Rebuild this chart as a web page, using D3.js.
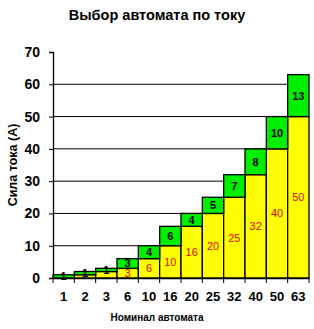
<!DOCTYPE html>
<html>
<head>
<meta charset="utf-8">
<script src="https://cdn.jsdelivr.net/npm/d3@7"></script>
<style>
  body { margin: 0; background: #fff; }
  text { font-family: "Liberation Sans", Arial, sans-serif; }
</style>
</head>
<body>
<svg id="chart" width="314" height="329"></svg>
<script>
// ratings of the breakers and the two stacked parts
const ratings = ["1", "2", "3", "6", "10", "16", "20", "25", "32", "40", "50", "63"];
const yellowValues = [0, 1, 2, 3, 6, 10, 16, 20, 25, 32, 40, 50];
const greenValues = [1, 1, 1, 3, 4, 6, 4, 5, 7, 8, 10, 13];
const yTicks = [0, 10, 20, 30, 40, 50, 60, 70];

let svg = d3.select("svg#chart");

let margin = {left: 53, right: 5, top: 52, bottom: 51};
let width = 314 - margin.left - margin.right;
let height = 329 - margin.top - margin.bottom;

let x = d3.scaleBand().domain(ratings).range([margin.left, margin.left + width]).padding(0);
let y = d3.scaleLinear().domain([0, 70]).range([margin.top + height, margin.top]);

// title
svg.append("text")
  .attr("x", 157).attr("y", 20)
  .attr("text-anchor", "middle")
  .style("font-size", "14.5px").style("font-weight", "bold")
  .text("Выбор автомата по току");

// gridlines
svg.append("g")
  .selectAll("line")
  .data(yTicks.filter(d => d > 0 && d < 70))
  .join("line")
  .attr("x1", margin.left).attr("x2", margin.left + width)
  .attr("y1", d => y(d)).attr("y2", d => y(d))
  .attr("stroke", "#000").attr("stroke-width", 1);

// stacked data
let rows = ratings.map((r, i) => ({rating: r, yellow: yellowValues[i], green: greenValues[i]}));

let bars = svg.append("g");
bars.selectAll("rect.yellow")
  .data(rows.filter(d => d.yellow > 0))
  .join("rect")
  .attr("class", "yellow")
  .attr("x", d => x(d.rating))
  .attr("width", x.bandwidth())
  .attr("y", d => y(d.yellow))
  .attr("height", d => y(0) - y(d.yellow))
  .attr("fill", "#ffff00")
  .attr("stroke", "#000").attr("stroke-width", 1.3);

bars.selectAll("rect.green")
  .data(rows)
  .join("rect")
  .attr("class", "green")
  .attr("x", d => x(d.rating))
  .attr("width", x.bandwidth())
  .attr("y", d => y(d.yellow + d.green))
  .attr("height", d => y(d.yellow) - y(d.yellow + d.green))
  .attr("fill", "#00ee00")
  .attr("stroke", "#000").attr("stroke-width", 1.3);

// labels
bars.selectAll("text.gl")
  .data(rows)
  .join("text")
  .attr("class", "gl")
  .attr("x", d => x(d.rating) + x.bandwidth() / 2)
  .attr("y", d => y(d.yellow + d.green / 2) + 4)
  .attr("text-anchor", "middle")
  .style("font-size", "11px").style("font-weight", "bold")
  .text(d => d.green);

bars.selectAll("text.yl")
  .data(rows.filter(d => d.yellow >= 3))
  .join("text")
  .attr("class", "yl")
  .attr("x", d => x(d.rating) + x.bandwidth() / 2)
  .attr("y", d => y(d.yellow / 2) + 4)
  .attr("text-anchor", "middle")
  .attr("fill", "#e00000")
  .style("font-size", "11px")
  .text(d => d.yellow);

// axes
let yAxis = svg.append("g")
  .attr("transform", "translate(" + margin.left + ",0)")
  .call(d3.axisLeft(y).tickValues(yTicks).tickSize(4).tickPadding(9));
yAxis.select(".domain").attr("stroke-width", 1.3);
yAxis.selectAll("text")
  .style("font-family", "'Liberation Sans Narrow', 'Liberation Sans', Arial, sans-serif")
  .style("font-size", "14px").style("font-weight", "bold").attr("fill", "#000");

let xAxis = svg.append("g")
  .attr("transform", "translate(0," + y(0) + ")")
  .call(d3.axisBottom(x).tickSize(0).tickPadding(14));
xAxis.select(".domain").attr("stroke-width", 1.3);
xAxis.selectAll("text").style("font-size", "13px").style("font-weight", "bold").attr("fill", "#000");

// tick marks at band edges
xAxis.selectAll("line.edge")
  .data(ratings.concat(["end"]))
  .join("line")
  .attr("class", "edge")
  .attr("x1", (d, i) => margin.left + i * x.bandwidth())
  .attr("x2", (d, i) => margin.left + i * x.bandwidth())
  .attr("y1", 0).attr("y2", 5)
  .attr("stroke", "#000");

// axis titles
svg.append("text")
  .attr("x", 157).attr("y", 321)
  .attr("text-anchor", "middle")
  .style("font-size", "10px").style("font-weight", "bold")
  .text("Номинал автомата");

svg.append("text")
  .attr("transform", "translate(17," + 165 + ") rotate(-90)")
  .attr("text-anchor", "middle")
  .style("font-size", "12.5px").style("font-weight", "bold")
  .text("Сила тока (А)");
</script>
</body>
</html>
